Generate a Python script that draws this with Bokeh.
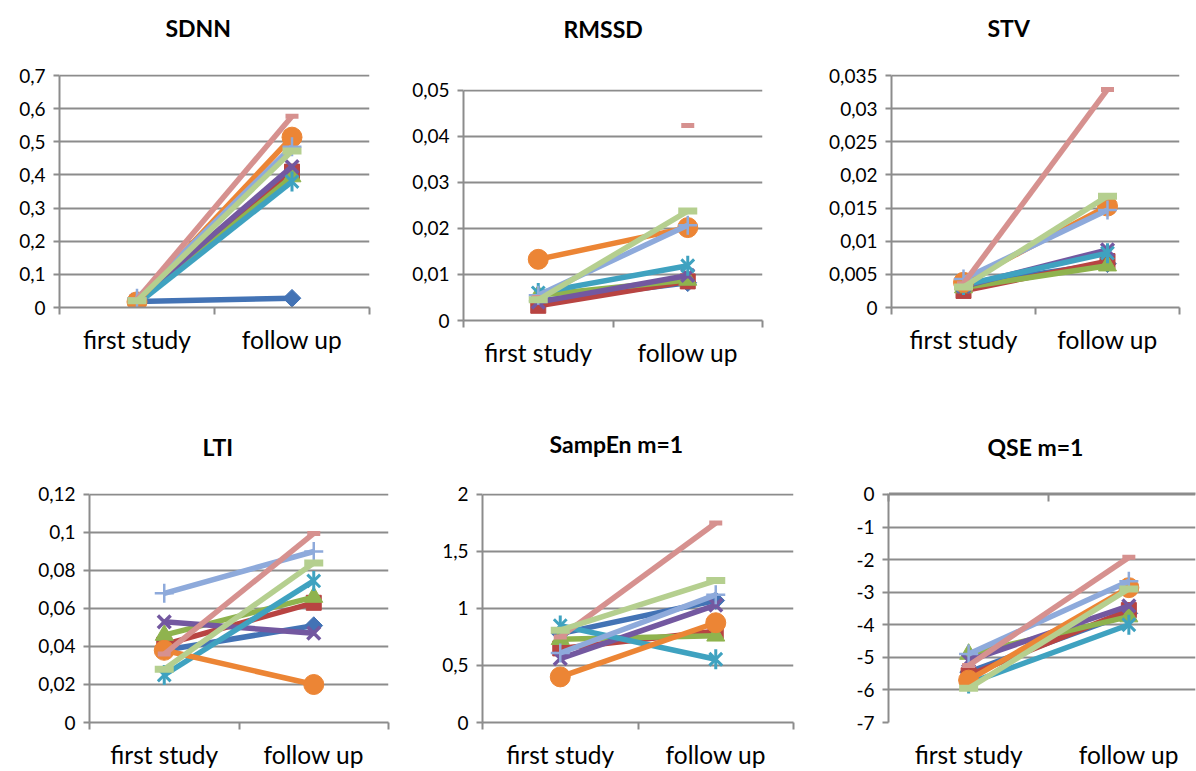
import math
from bokeh.plotting import figure
from bokeh.models import Range1d, FixedTicker, LinearAxis, Grid, Title, Spacer
from bokeh.layouts import row, column
from bokeh.embed import file_html
from bokeh.resources import INLINE

categories = ["first study", "follow up"]

# nine patients / series (Excel default order of colours and markers)
sdnn_first = [0.018, 0.015, 0.012, 0.022, 0.010, 0.017, 0.028, 0.024, 0.020]
sdnn_follow = [0.028, 0.410, 0.395, 0.425, 0.380, 0.514, 0.485, 0.577, 0.472]
rmssd_first = [0.0042, 0.0032, 0.0055, 0.0040, 0.0060, 0.0133, 0.0055, 0.0050, 0.0045]
rmssd_follow = [0.0082, 0.0085, 0.0088, 0.0098, 0.0119, 0.0202, 0.0207, 0.0424, 0.0238]
stv_first = [0.0035, 0.0025, 0.0030, 0.0032, 0.0034, 0.0038, 0.0043, 0.0036, 0.0031]
stv_follow = [0.0066, 0.0070, 0.0063, 0.0087, 0.0082, 0.0153, 0.0147, 0.0329, 0.0168]
lti_first = [0.038, 0.041, 0.046, 0.053, 0.025, 0.038, 0.068, 0.036, 0.028]
lti_follow = [0.051, 0.063, 0.066, 0.047, 0.0745, 0.020, 0.090, 0.0995, 0.084]
sampen_first = [0.78, 0.65, 0.73, 0.56, 0.85, 0.40, 0.61, 0.75, 0.81]
sampen_follow = [1.07, 0.80, 0.76, 1.03, 0.555, 0.875, 1.12, 1.75, 1.245]
qse_first = [-5.45, -5.55, -4.90, -5.10, -5.80, -5.70, -4.90, -5.25, -5.95]
qse_follow = [-3.65, -3.55, -3.75, -3.42, -4.00, -2.86, -2.66, -1.93, -2.90]

sdnn_ticks = [0, 0.1, 0.2, 0.3, 0.4, 0.5, 0.6, 0.7]
sdnn_labels = ["0", "0,1", "0,2", "0,3", "0,4", "0,5", "0,6", "0,7"]
rmssd_ticks = [0, 0.01, 0.02, 0.03, 0.04, 0.05]
rmssd_labels = ["0", "0,01", "0,02", "0,03", "0,04", "0,05"]
stv_ticks = [0, 0.005, 0.01, 0.015, 0.02, 0.025, 0.03, 0.035]
stv_labels = ["0", "0,005", "0,01", "0,015", "0,02", "0,025", "0,03", "0,035"]
lti_ticks = [0, 0.02, 0.04, 0.06, 0.08, 0.1, 0.12]
lti_labels = ["0", "0,02", "0,04", "0,06", "0,08", "0,1", "0,12"]
sampen_ticks = [0, 0.5, 1, 1.5, 2]
sampen_labels = ["0", "0,5", "1", "1,5", "2"]
qse_ticks = [-7, -6, -5, -4, -3, -2, -1, 0]
qse_labels = ["-7", "-6", "-5", "-4", "-3", "-2", "-1", "0"]

COLORS = ["#4373B5", "#B84442", "#8FB34E", "#7358A0", "#3FA2C0",
          "#EC8535", "#8EAADB", "#D6918F", "#B5CF8F"]
GRID = "#8C8C8C"
FONT = "Lato"


def draw_markers(p, i, xs, ys):
    c = COLORS[i]
    if i == 0:
        p.scatter(xs, ys, marker="square", angle=math.pi / 4, size=12.5, color=c)
    elif i == 1:
        p.scatter(xs, ys, marker="square", size=15, color=c)
    elif i == 2:
        p.scatter(xs, ys, marker="triangle", size=18, color=c)
    elif i == 3:
        p.scatter(xs, ys, marker="x", size=18, line_color=c, line_width=3.5)
    elif i == 4:
        p.scatter(xs, ys, marker="x", size=18, line_color=c, line_width=3)
        p.scatter(xs, ys, marker="dash", angle=math.pi / 2, size=20, line_color=c, line_width=3)
    elif i == 5:
        p.scatter(xs, ys, marker="circle", size=20, color=c)
    elif i == 6:
        p.scatter(xs, ys, marker="cross", size=19, line_color=c, line_width=2.5)
    elif i == 7:
        p.scatter(xs, ys, marker="dash", size=13, line_color=c, line_width=5)
    else:
        p.scatter(xs, ys, marker="dash", size=19, line_color=c, line_width=7)


def panel(title, first, follow, ticks, labels, W, H, fl, fr, ft, fb,
          t_off, gap, zero_top=False, no_line=(), x_end=2.0):
    t0, t1 = ticks[0], ticks[-1]
    pad = (t1 - t0) / (fb - ft - 1)
    p = figure(width=W, height=H, x_range=Range1d(0, x_end),
               y_range=Range1d(t0, t1 + pad),
               output_backend="svg", toolbar_location=None,
               x_axis_type=None, y_axis_type=None,
               min_border_left=fl, min_border_right=W - fr,
               min_border_top=ft, min_border_bottom=H - fb)
    p.outline_line_color = None
    p.background_fill_color = "white"
    p.border_fill_color = "white"

    yax = LinearAxis(ticker=FixedTicker(ticks=ticks), bounds=(t0, t1),
                     major_label_overrides=dict(zip(ticks, labels)),
                     axis_line_color=GRID, axis_line_width=2,
                     major_tick_line_color=GRID, major_tick_line_width=2,
                     major_tick_out=6, major_tick_in=0,
                     minor_tick_line_color=None,
                     major_label_text_font=FONT,
                     major_label_text_font_size="19px",
                     major_label_text_color="black",
                     major_label_standoff=8)
    p.add_layout(yax, "left")
    p.add_layout(Grid(dimension=1, ticker=yax.ticker,
                      grid_line_color=GRID, grid_line_width=2))

    cat_pos = [i + 0.5 for i in range(len(categories))]
    bounds = [float(i) for i in range(len(categories) + 1)]
    xax = LinearAxis(ticker=FixedTicker(ticks=cat_pos, minor_ticks=[] if zero_top else bounds),
                     major_label_overrides=dict(zip(cat_pos, categories)),
                     axis_line_color=None if zero_top else GRID, axis_line_width=2,
                     major_tick_line_color=None, major_tick_out=0,
                     minor_tick_line_color=GRID, minor_tick_line_width=2,
                     minor_tick_out=7, minor_tick_in=0,
                     major_label_text_font=FONT,
                     major_label_text_font_size="24.5px",
                     major_label_text_color="black",
                     major_label_standoff=17 if zero_top else 10)
    p.add_layout(xax, "below")
    if zero_top:
        tax = LinearAxis(ticker=FixedTicker(ticks=[], minor_ticks=bounds),
                         axis_line_color=GRID, axis_line_width=2,
                         major_tick_line_color=None, major_tick_out=0, major_tick_in=0,
                         minor_tick_line_color=GRID, minor_tick_line_width=2,
                         minor_tick_in=8, minor_tick_out=0,
                         major_label_standoff=0,
                         major_label_text_font_size="0px")
        p.add_layout(tax, "above")
    # invisible spacer between frame and title (white tick at the left edge)
    sp = LinearAxis(ticker=FixedTicker(ticks=[0.0]), axis_line_color=None,
                    major_tick_line_color="white", minor_tick_line_color=None,
                    major_tick_out=gap, major_tick_in=0, minor_tick_out=0,
                    major_label_overrides={0.0: ""},
                    major_label_standoff=0, major_label_text_font_size="0px")
    p.add_layout(sp, "above")

    p.title = Title(text=title, align="left", offset=t_off, standoff=0,
                    text_font=FONT, text_font_size="23px",
                    text_font_style="bold", text_color="black")

    for i in range(len(first)):
        xs = cat_pos
        ys = [first[i], follow[i]]
        if i not in no_line:
            p.line(xs, ys, line_color=COLORS[i], line_width=5.5)
        draw_markers(p, i, xs, ys)
    return p


p1 = panel("SDNN", sdnn_first, sdnn_follow, sdnn_ticks, sdnn_labels,
           400, 385, 59, 369, 74, 307, 106, 33)
p2 = panel("RMSSD", rmssd_first, rmssd_follow, rmssd_ticks, rmssd_labels,
           400, 373, 63, 362, 76, 308, 100, 47, no_line=(7,))
p3 = panel("STV", stv_first, stv_follow, stv_ticks, stv_labels,
           396, 385, 91, 379, 74, 307, 96, 33)
p4 = panel("LTI", lti_first, lti_follow, lti_ticks, lti_labels,
           400, 386, 89, 388, 108, 339, 113, 33)
p5 = panel("SampEn m=1", sampen_first, sampen_follow, sampen_ticks, sampen_labels,
           400, 386, 82, 393, 108, 339, 67, 36)
p6 = panel("QSE m=1", qse_first, qse_follow, qse_ticks, qse_labels,
           396, 386, 88, 395, 108, 339, 99, 33, zero_top=True, x_end=1.916)

layout = column(row(p1, column(Spacer(width=400, height=12), p2), p3),
                row(p4, p5, p6))
open("out.html", "w").write(file_html(layout, INLINE))
